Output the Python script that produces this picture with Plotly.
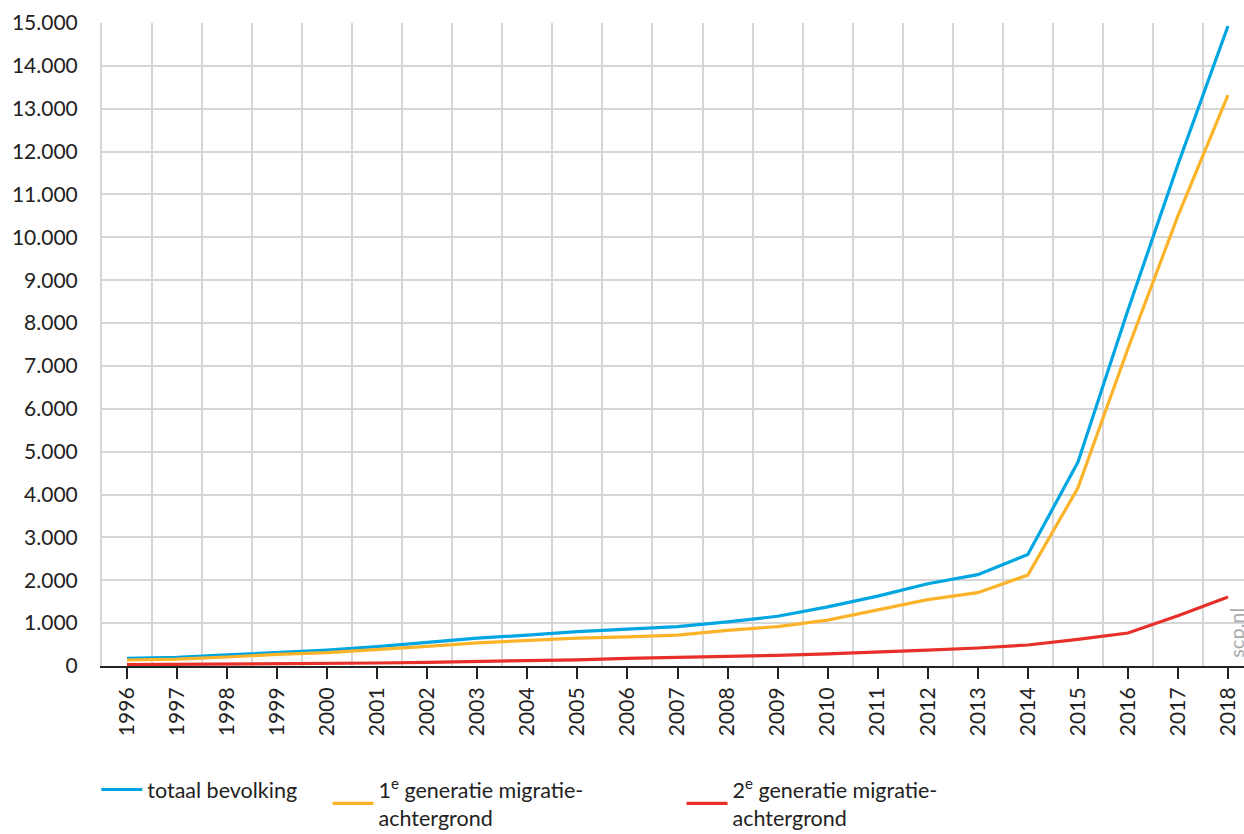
import plotly.graph_objects as go

years = list(range(1996, 2019))
totaal = [180, 200, 260, 320, 370, 450, 550, 650, 720, 800, 860, 920, 1030, 1160,
          1380, 1630, 1920, 2130, 2600, 4750, 8300, 11700, 14930]
gen1 = [140, 160, 210, 270, 310, 380, 460, 540, 590, 650, 680, 720, 830, 920,
        1070, 1310, 1550, 1710, 2120, 4150, 7400, 10500, 13320]
gen2 = [30, 35, 45, 50, 60, 70, 85, 100, 120, 145, 180, 200, 220, 250,
        285, 320, 370, 420, 490, 620, 770, 1170, 1610]
y_ticks = list(range(0, 15001, 1000))
y_labels = [f"{v:,}".replace(",", ".") for v in y_ticks]

names = ["totaal bevolking", "1<sup>e</sup> generatie migratie-<br>achtergrond",
         "2<sup>e</sup> generatie migratie-<br>achtergrond"]
colors = ["#00a6e2", "#fbb42a", "#e8302a"]
series = [totaal, gen1, gen2]
legends = ["legend", "legend2", "legend3"]

FONT = "Lato"
fig = go.Figure()
for s, n, c, lg in zip(series, names, colors, legends):
    fig.add_trace(go.Scatter(x=years, y=s, mode="lines", name=n, showlegend=True,
                             line=dict(color=c, width=3.2), legend=lg))

LEG_Y = 1 - 769 / 834
leg_common = dict(orientation="h", yanchor="top", xanchor="left",
                  yref="container", y=LEG_Y,
                  font=dict(family=FONT, size=21.5, color="#222"),
                  itemwidth=41, bgcolor="rgba(0,0,0,0)")
fig.update_layout(
    width=1244, height=834,
    showlegend=True,
    margin=dict(l=102, r=0, t=23, b=168),
    plot_bgcolor="white", paper_bgcolor="white",
    font=dict(family=FONT, size=21, color="#222"),
    legend=dict(x=-0.005, **leg_common),
    legend2=dict(x=0.1975, **leg_common),
    legend3=dict(x=0.5075, **leg_common),
    xaxis=dict(range=[1995.5, 2018.32], tickmode="array", tickvals=years,
               ticktext=[str(y) for y in years], tickangle=-90, automargin=False,
               showgrid=False, ticks="outside", ticklen=11, tickwidth=2,
               tickcolor="#222", showline=True, linecolor="#222", linewidth=2,
               zeroline=False,
               minor=dict(tick0=1995.5, dtick=1, showgrid=True,
                          gridcolor="#d6d6d6", gridwidth=2, ticks=""),
               tickfont=dict(family=FONT, size=21, color="#222")),
    yaxis=dict(range=[0, 15000], tickmode="array", tickvals=y_ticks,
               ticktext=y_labels, showgrid=True, gridcolor="#d6d6d6",
               gridwidth=2, zeroline=False, showline=True, linecolor="#d6d6d6",
               linewidth=2, ticks="outside", ticklen=18, tickcolor="rgba(0,0,0,0)",
               automargin=False,
               tickfont=dict(family=FONT, size=21, color="#222")),
)
fig.add_annotation(text="scp.nl", textangle=-90, xref="paper", yref="paper",
                   x=0.9935, y=0.009, xanchor="center", yanchor="bottom",
                   showarrow=False, font=dict(family=FONT, size=20, color="#aaa"))
fig.write_html("out.html", post_script="document.body.style.margin='0';",
               config={"displayModeBar": False})
